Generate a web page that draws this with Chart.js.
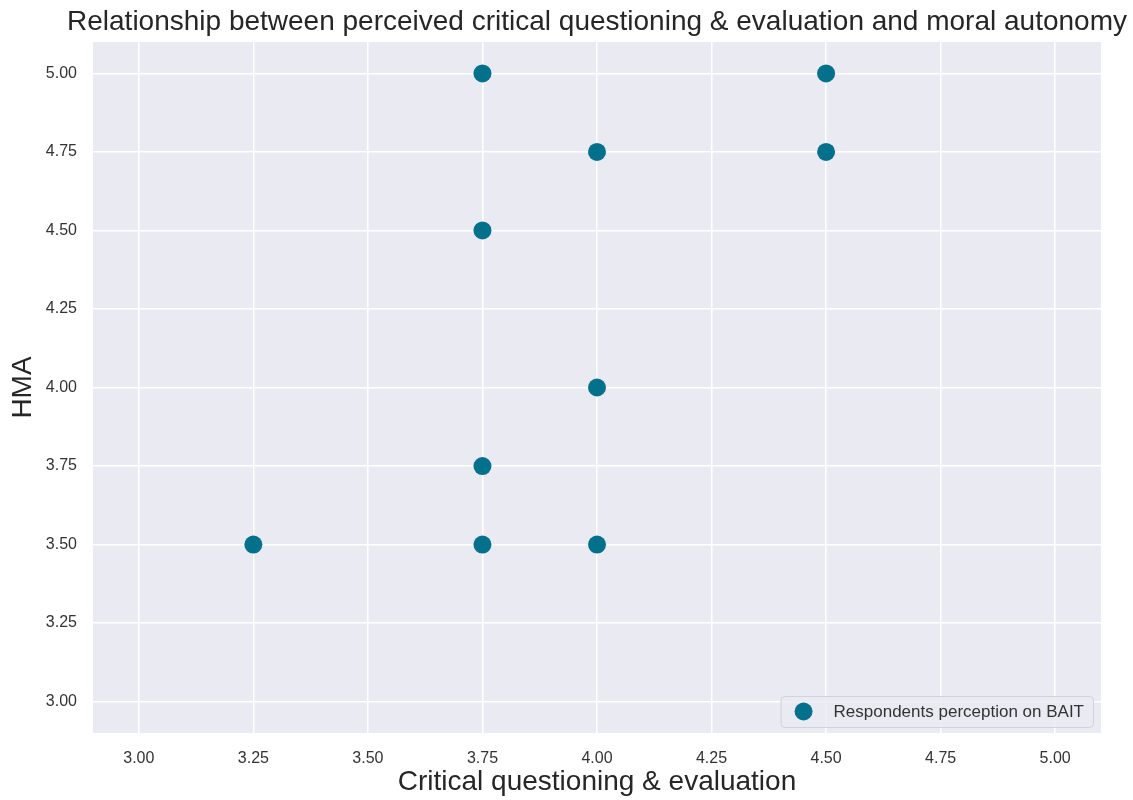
<!DOCTYPE html>
<html>
<head>
<meta charset="utf-8">
<script src="https://cdn.jsdelivr.net/npm/chart.js@4/dist/chart.umd.min.js"></script>
<style>
  html, body { margin: 0; padding: 0; background: #ffffff; }
  #wrap { width: 1133px; height: 800px; position: relative; }
</style>
</head>
<body>
<div id="wrap"><canvas id="c" width="1133" height="800"></canvas></div>
<script>
// Respondent scores: critical questioning & evaluation (x) vs HMA (y)
const criticalScores = [3.75, 4.50, 4.00, 4.50, 3.75, 4.00, 3.75, 3.25, 3.75, 4.00];
const hmaScores      = [5.00, 5.00, 4.75, 4.75, 4.50, 4.00, 3.75, 3.50, 3.50, 3.50];
const xTicks = [3.00, 3.25, 3.50, 3.75, 4.00, 4.25, 4.50, 4.75, 5.00];
const yTicks = [3.00, 3.25, 3.50, 3.75, 4.00, 4.25, 4.50, 4.75, 5.00];
const seriesLabel = 'Respondents perception on BAIT';
const chartTitle = 'Relationship between perceived critical questioning & evaluation and moral autonomy';
const xTitle = 'Critical questioning & evaluation';
const yTitle = 'HMA';

const FONT = "'Liberation Sans', Arial, sans-serif";
const POINT_COLOR = '#03718b';

const points = criticalScores.map((x, i) => ({ x: x, y: hmaScores[i] }));

// Plot background shading
const plotBackground = {
  id: 'plotBackground',
  beforeDraw(chart) {
    const { ctx, chartArea: a } = chart;
    ctx.save();
    ctx.fillStyle = '#eaeaf2';
    ctx.fillRect(a.left, a.top, a.right - a.left, a.bottom - a.top);
    ctx.restore();
  }
};

// Title centred over the plot area
const plotTitle = {
  id: 'plotTitle',
  afterDraw(chart, args, opts) {
    const { ctx, chartArea: a } = chart;
    ctx.save();
    ctx.font = '28px ' + FONT;
    ctx.fillStyle = '#262626';
    ctx.textAlign = 'center';
    ctx.textBaseline = 'middle';
    ctx.fillText(opts.text, (a.left + a.right) / 2, a.top - 20);
    ctx.restore();
  }
};

// Legend box drawn inside the lower-right corner of the plot
const innerLegend = {
  id: 'innerLegend',
  afterDraw(chart) {
    const { ctx, chartArea: a } = chart;
    const ds = chart.data.datasets[0];
    ctx.save();
    ctx.font = '17px ' + FONT;
    const tw = ctx.measureText(ds.label).width;
    const h = 31;
    const w = tw + 62;
    const right = a.right - 8;
    const bottom = a.bottom - 6;
    const left = right - w;
    const top = bottom - h;
    ctx.beginPath();
    ctx.roundRect(left + 0.5, top + 0.5, w, h, 4);
    ctx.fillStyle = 'rgba(234,234,242,0.8)';
    ctx.fill();
    ctx.strokeStyle = '#d2d2da';
    ctx.lineWidth = 1;
    ctx.stroke();
    const cy = top + h / 2;
    ctx.beginPath();
    ctx.arc(left + 23, cy, 9, 0, Math.PI * 2);
    ctx.fillStyle = ds.backgroundColor;
    ctx.fill();
    ctx.fillStyle = '#333333';
    ctx.textBaseline = 'middle';
    ctx.textAlign = 'left';
    ctx.fillText(ds.label, left + 53, cy + 1);
    ctx.restore();
  }
};

new Chart(document.getElementById('c'), {
  type: 'scatter',
  data: {
    datasets: [{
      label: seriesLabel,
      data: points,
      backgroundColor: POINT_COLOR,
      borderColor: POINT_COLOR,
      borderWidth: 0,
      pointRadius: 9,
      pointHoverRadius: 9
    }]
  },
  options: {
    responsive: false,
    animation: false,
    layout: { padding: { left: 0, right: 32, top: 42, bottom: 0 } },
    plugins: {
      legend: { display: false },
      tooltip: { enabled: false },
      title: { display: false },
      plotTitle: { text: chartTitle }
    },
    scales: {
      x: {
        type: 'linear',
        min: 2.9,
        max: 5.1,
        afterBuildTicks(scale) { scale.ticks = xTicks.map(v => ({ value: v })); },
        afterFit(scale) { scale.height = 67; },
        ticks: {
          color: '#333333',
          font: { family: FONT, size: 16 },
          padding: 16,
          maxRotation: 0,
          callback: v => Number(v).toFixed(2)
        },
        grid: { color: '#ffffff', lineWidth: 1.5, drawTicks: false },
        border: { display: false },
        title: {
          display: true,
          text: xTitle,
          color: '#262626',
          font: { family: FONT, size: 28 },
          padding: { top: 0, bottom: 1 }
        }
      },
      y: {
        type: 'linear',
        min: 2.9,
        max: 5.1,
        afterBuildTicks(scale) { scale.ticks = yTicks.map(v => ({ value: v })); },
        afterFit(scale) { scale.width = 93; },
        ticks: {
          color: '#333333',
          font: { family: FONT, size: 16 },
          padding: 16,
          callback: v => Number(v).toFixed(2)
        },
        grid: { color: '#ffffff', lineWidth: 1.5, drawTicks: false },
        border: { display: false },
        title: {
          display: true,
          text: yTitle,
          color: '#262626',
          font: { family: FONT, size: 28 },
          padding: { top: 6, bottom: 0 }
        }
      }
    }
  },
  plugins: [plotBackground, plotTitle, innerLegend]
});
</script>
</body>
</html>
